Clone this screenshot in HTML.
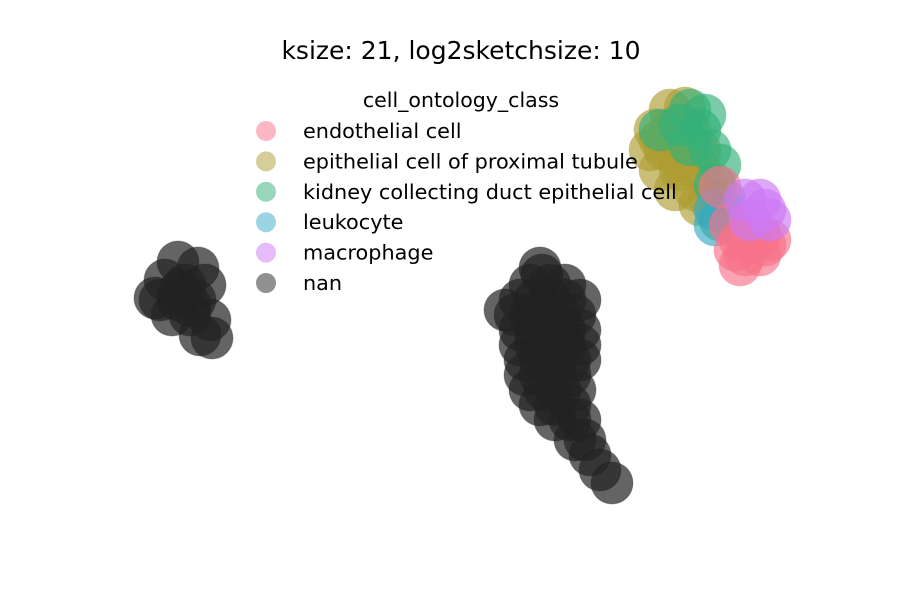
<!DOCTYPE html>
<html><head><meta charset="utf-8"><style>
body{margin:0;background:#fff;font-family:"Liberation Sans","DejaVu Sans",sans-serif}
</style></head><body>
<svg width="900" height="600" xmlns="http://www.w3.org/2000/svg">
<rect width="900" height="600" fill="#fff"/>
<text x="461" y="59" text-anchor="middle" font-size="25" font-family="DejaVu Sans, sans-serif">ksize: 21, log2sketchsize: 10</text>
<g id="pts"></g>
<g id="legend"></g>
</svg>
<script>
const categories=["endothelial cell","epithelial cell of proximal tubule","kidney collecting duct epithelial cell","leukocyte","macrophage","nan"];
const colors=["#f77189","#ae9d31","#33b07a","#38a9c5","#cc7af4","#222222"];
const nanX=[17.8,19.8,16.5,18.5,20.5,16.0,17.8,19.5,17.2,19.0,21.0,20.0,21.2,15.5,18.0,19.0,
53.0,55.0,56.5,52.0,53.5,55.0,56.5,58.0,51.5,53.0,54.5,56.0,57.5,52.0,53.5,55.0,56.5,58.0,52.0,53.5,55.0,56.5,58.0,52.5,54.0,55.5,57.0,58.0,52.5,54.0,55.5,57.0,53.0,54.5,56.0,57.5,54.0,55.5,57.0,55.5,57.0,58.0,57.5,58.5,59.0,60.0,61.2,54.0,50.5,54.2,56.0];
const nanY=[33.8,33.2,32.0,31.5,31.5,30.0,30.0,30.0,28.5,28.5,28.0,26.5,26.2,30.2,31.0,29.5,
31.5,31.5,31.5,30.0,30.0,30.0,30.0,30.0,28.5,28.5,28.5,28.5,28.5,27.0,27.0,27.0,27.0,27.0,25.5,25.5,25.5,25.5,25.5,24.0,24.0,24.0,24.0,24.0,22.5,22.5,22.5,22.5,21.0,21.0,21.0,21.0,19.5,19.5,19.5,18.0,18.0,18.0,16.0,16.0,14.5,13.0,11.7,33.2,29.0,32.5,26.0];
const epiX=[67.0,68.5,65.5,67.0,69.0,65.0,66.5,68.5,70.0,66.0,68.0,70.0,67.5,69.5,70.0,71.0,66.0,68.0];
const epiY=[49.0,49.2,47.0,47.0,47.0,45.0,45.0,45.0,45.0,43.0,43.0,43.0,41.0,41.0,39.5,40.0,46.0,44.0];
const kidX=[69.0,70.5,68.0,70.0,69.0,71.0,72.0,71.5,72.5,72.0,66.0];
const kidY=[49.0,48.5,47.5,47.0,45.5,45.0,43.5,41.5,40.0,38.0,47.0];
const leuX=[71.5,73.0,71.5];
const leuY=[39.0,38.5,37.5];
const endoX=[74.0,76.0,74.5,73.0,76.5,72.0,75.0,73.5,76.0,77.0,74.0];
const endoY=[36.0,36.5,34.5,37.5,35.5,41.3,37.5,35.0,34.5,36.0,33.5];
const macX=[74.5,76.5,75.0,76.0,77.0];
const macY=[40.0,39.0,38.0,40.0,38.0];
const xs=v=>v*10, ys=v=>600-v*10;
const NS="http://www.w3.org/2000/svg";
const g=document.getElementById('pts');
function draw(X,Y,ci,name){for(let i=0;i<X.length;i++){const c=document.createElementNS(NS,'circle');


c.setAttribute('cx',xs(X[i]));c.setAttribute('cy',ys(Y[i]));c.setAttribute('r',21);
c.setAttribute('fill',colors[ci]);c.setAttribute('fill-opacity',ci==5?0.7:0.65);
c.setAttribute('stroke',colors[ci]);c.setAttribute('stroke-opacity',0.3);g.appendChild(c);}}
draw(nanX,nanY,5,'point-nan');
draw(epiX,epiY,1,'point-epithelial');
draw(kidX,kidY,2,'point-collecting-duct');
draw(leuX,leuY,3,'point-leukocyte');
draw(endoX,endoY,0,'point-endothelial');
draw(macX,macY,4,'point-macrophage');
const L=document.getElementById('legend');
const t=document.createElementNS(NS,'text');


t.setAttribute('x',461);t.setAttribute('y',107);t.setAttribute('text-anchor','middle');t.setAttribute('font-size',20.5);t.setAttribute('font-family','DejaVu Sans, sans-serif');t.textContent='cell_ontology_class';L.appendChild(t);
categories.forEach((c,i)=>{const y=131+i*30.4;
const m=document.createElementNS(NS,'circle');


m.setAttribute('cx',266);m.setAttribute('cy',y);m.setAttribute('r',10);m.setAttribute('fill',colors[i]);m.setAttribute('fill-opacity',0.5);L.appendChild(m);
const tx=document.createElementNS(NS,'text');


tx.setAttribute('x',303);tx.setAttribute('y',y+7);tx.setAttribute('font-size',20.8);tx.setAttribute('font-family','DejaVu Sans, sans-serif');tx.textContent=c;L.appendChild(tx);});
</script>
</body></html>
